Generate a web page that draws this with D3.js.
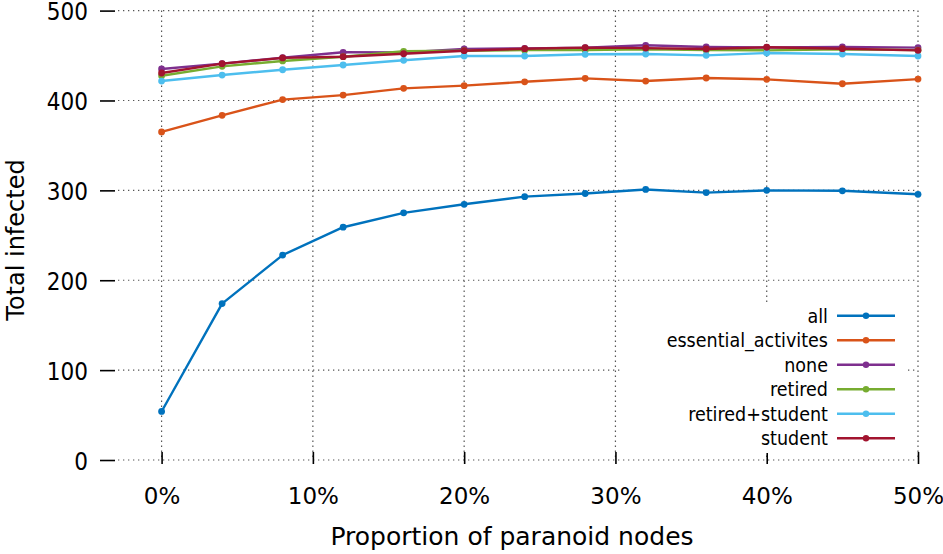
<!DOCTYPE html>
<html><head><meta charset="utf-8">
<script src="https://cdn.jsdelivr.net/npm/d3@7"></script>
<style>
body{margin:0;background:#fff;}
svg{display:block;font-family:"DejaVu Sans",sans-serif;}
.cond{font-family:"DejaVu Sans Condensed","DejaVu Sans",sans-serif;font-stretch:condensed;}
</style></head><body>
<svg id="c" width="943" height="554"></svg>
<script>
const proportions = [0, 4, 8, 12, 16, 20, 24, 28, 32, 36, 40, 45, 50];
const seriesNames = ["all", "essential_activites", "none", "retired", "retired+student", "student"];
const allVals = [54, 174, 228, 259, 275, 284.5, 293, 296.5, 301, 297.5, 300, 299.5, 295.6];
const essentialVals = [365, 383.5, 401, 406, 413.5, 416.5, 420.8, 424.6, 421.6, 425, 423.5, 418.6, 423.8];
const noneVals = [435, 441, 447.6, 453.6, 453.5, 457.3, 458, 458.8, 461.4, 459.5, 459, 459.5, 458.8];
const retiredVals = [427.5, 438, 444, 448.7, 454.7, 455.4, 456, 456, 457, 456, 455.8, 457, 456];
const retiredStudentVals = [421.6, 428.3, 434.2, 439.5, 444.7, 449.5, 449.5, 451.4, 451.7, 450.2, 452.8, 451.7, 449.5];
const studentVals = [430.6, 441, 447.4, 448.7, 452, 455.4, 457.6, 458.8, 458.3, 457.3, 459.2, 457.6, 455.8];
const colors = ["#0072bd", "#d95319", "#7e2f8e", "#77ac30", "#4dbeee", "#a2142f"];
const xTicks = [0, 10, 20, 30, 40, 50];
const yTicks = [0, 100, 200, 300, 400, 500];

const seriesVals = [allVals, essentialVals, noneVals, retiredVals, retiredStudentVals, studentVals];
const svg = d3.select("#c");
const x = d3.scaleLinear().domain([-3.04, 50]).range([115.6, 918]);
const y = d3.scaleLinear().domain([0, 500]).range([460, 10.6]);

// grid
const grid = svg.append("g").attr("stroke", "#555").attr("stroke-width", 1.2).attr("stroke-dasharray", "1.3,3.7");
grid.selectAll(".h").data(yTicks).join("line")
  .attr("x1", 118).attr("x2", 918).attr("y1", d => y(d)).attr("y2", d => y(d));
grid.selectAll(".v").data(xTicks).join("line")
  .attr("x1", d => x(d)).attr("x2", d => x(d)).attr("y1", y(500)).attr("y2", y(0));

// axes
const yAxis = d3.axisLeft(y).tickValues(yTicks).tickSize(15).tickPadding(12).tickFormat(d3.format("d"));
const gy = svg.append("g").attr("transform", "translate(115,0)").call(yAxis);
gy.select(".domain").remove();
gy.attr("font-family", null);
gy.selectAll(".tick line").attr("stroke", "#000").attr("stroke-width", 1.6);
gy.selectAll(".tick text").attr("class", "cond").attr("font-size", 24).attr("fill", "#000").attr("dy", "0.38em");

const xAxis = d3.axisBottom(x).tickValues(xTicks).tickSize(0).tickPadding(0).tickFormat(d => d + "%");
const gx = svg.append("g").attr("transform", "translate(0,460)").call(xAxis);
gx.select(".domain").remove();
gx.attr("font-family", null);
gx.selectAll(".tick text").attr("font-size", 23).attr("fill", "#000").attr("y", 44).attr("dy", 0);
gx.selectAll(".tick").append("line").attr("y1", -8).attr("y2", 4).attr("stroke", "#000").attr("stroke-width", 1.6);

// titles
svg.append("text").attr("x", 512).attr("y", 545).attr("text-anchor", "middle")
  .attr("font-size", 25).text("Proportion of paranoid nodes");
svg.append("text").attr("transform", "translate(24,240) rotate(-90)").attr("text-anchor", "middle")
  .attr("font-size", 24).text("Total infected");

// legend background
svg.append("rect").attr("x", 622).attr("y", 303).attr("width", 283).attr("height", 150).attr("fill", "#fff");

// series
const line = d3.line().x((d, i) => x(proportions[i])).y(d => y(d));
seriesVals.forEach((vals, k) => {
  const g = svg.append("g");
  g.append("path").datum(vals).attr("d", line).attr("fill", "none")
    .attr("stroke", colors[k]).attr("stroke-width", 2.4).attr("stroke-linejoin", "round");
  g.selectAll("circle").data(vals).join("circle")
    .attr("cx", (d, i) => x(proportions[i])).attr("cy", d => y(d)).attr("r", 3.4).attr("fill", colors[k]);
});

// legend
const leg = svg.append("g");
seriesNames.forEach((n, k) => {
  const yy = 315.7 + k * 24.5;
  leg.append("text").attr("class", "cond").attr("x", 828).attr("y", yy).attr("dy", "0.36em").attr("text-anchor", "end")
    .attr("font-size", 19.5).text(n);
  leg.append("line").attr("x1", 837).attr("x2", 895).attr("y1", yy).attr("y2", yy)
    .attr("stroke", colors[k]).attr("stroke-width", 2.4);
  leg.append("circle").attr("cx", 866).attr("cy", yy).attr("r", 3.2).attr("fill", colors[k]);
});
</script></body></html>
